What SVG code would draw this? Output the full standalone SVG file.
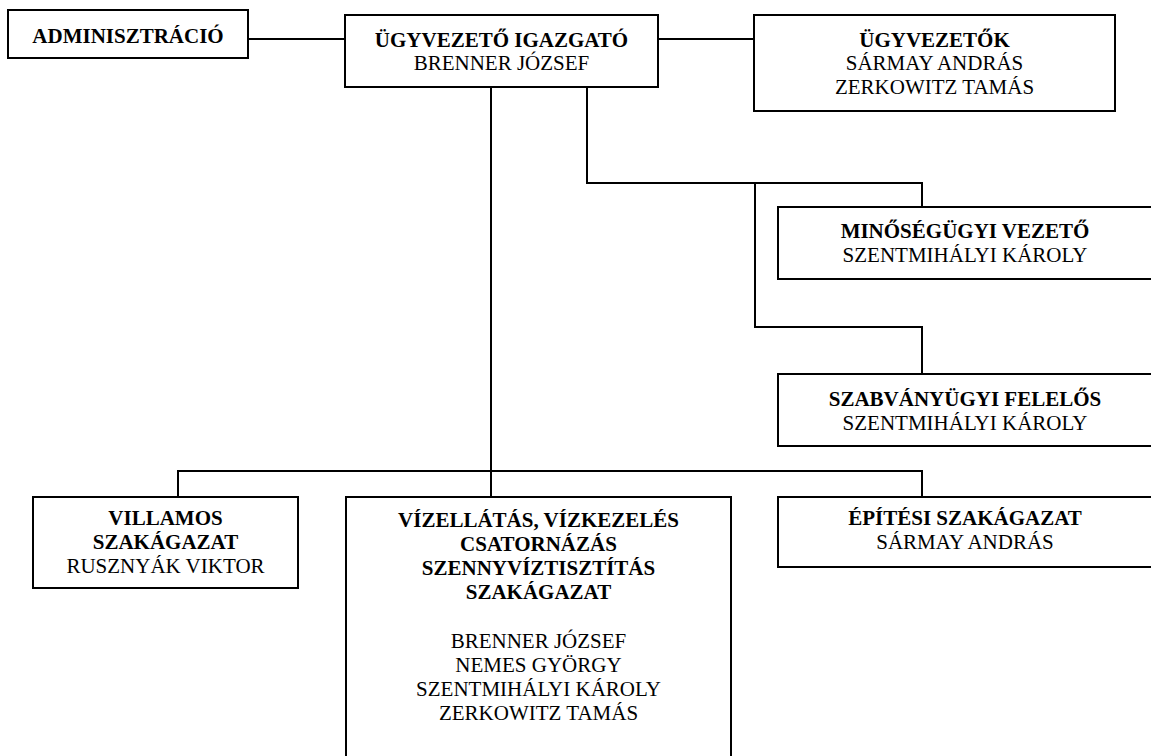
<svg xmlns="http://www.w3.org/2000/svg" width="1151" height="756" viewBox="0 0 1151 756">
<style>
.box{fill:#fff;stroke:#000;stroke-width:2}
.ln{fill:none;stroke:#000;stroke-width:2}
text{font-family:"Liberation Serif","Times New Roman",serif;font-size:21px;fill:#000;text-anchor:middle}
.b{font-weight:bold}
</style>
<rect width="1151" height="756" fill="#fff"/>
<g id="connectors">
<path class="ln" d="M248,39 H345"/>
<path class="ln" d="M658,39 H754"/>
<path class="ln" d="M491,87 V497"/>
<path class="ln" d="M587,87 V183 H922 V207"/>
<path class="ln" d="M755,183 V327 H922 V374"/>
<path class="ln" d="M178,497 V471 H922 V497"/>
</g>
<g id="adminisztracio">
<rect class="box" x="8" y="10" width="240" height="48"/>
<text class="b" x="128" y="43">ADMINISZTRÁCIÓ</text>
</g>
<g id="ugyvezeto-igazgato">
<rect class="box" x="345" y="15" width="313" height="72"/>
<text class="b" x="501.5" y="47">ÜGYVEZETŐ IGAZGATÓ</text>
<text x="501.5" y="70">BRENNER JÓZSEF</text>
</g>
<g id="ugyvezetok">
<rect class="box" x="754" y="15" width="361" height="96"/>
<text class="b" x="934.5" y="47">ÜGYVEZETŐK</text>
<text x="934.5" y="70">SÁRMAY ANDRÁS</text>
<text x="934.5" y="94">ZERKOWITZ TAMÁS</text>
</g>
<g id="minosegugyi">
<rect class="box" x="778" y="207" width="380" height="72"/>
<text class="b" x="965" y="238">MINŐSÉGÜGYI VEZETŐ</text>
<text x="965" y="262">SZENTMIHÁLYI KÁROLY</text>
</g>
<g id="szabvanyugyi">
<rect class="box" x="778" y="374" width="380" height="72"/>
<text class="b" x="965" y="406">SZABVÁNYÜGYI FELELŐS</text>
<text x="965" y="430">SZENTMIHÁLYI KÁROLY</text>
</g>
<g id="villamos">
<rect class="box" x="33" y="497" width="265" height="91"/>
<text class="b" x="165.5" y="525">VILLAMOS</text>
<text class="b" x="165.5" y="549">SZAKÁGAZAT</text>
<text x="165.5" y="573">RUSZNYÁK VIKTOR</text>
</g>
<g id="vizellatas">
<rect class="box" x="346" y="497" width="385" height="270"/>
<text class="b" x="538.5" y="527">VÍZELLÁTÁS, VÍZKEZELÉS</text>
<text class="b" x="538.5" y="551">CSATORNÁZÁS</text>
<text class="b" x="538.5" y="575">SZENNYVÍZTISZTÍTÁS</text>
<text class="b" x="538.5" y="599">SZAKÁGAZAT</text>
<text x="538.5" y="648">BRENNER JÓZSEF</text>
<text x="538.5" y="672">NEMES GYÖRGY</text>
<text x="538.5" y="696">SZENTMIHÁLYI KÁROLY</text>
<text x="538.5" y="720">ZERKOWITZ TAMÁS</text>
</g>
<g id="epitesi">
<rect class="box" x="778" y="497" width="380" height="70"/>
<text class="b" x="965" y="525">ÉPÍTÉSI SZAKÁGAZAT</text>
<text x="965" y="549">SÁRMAY ANDRÁS</text>
</g>
</svg>
